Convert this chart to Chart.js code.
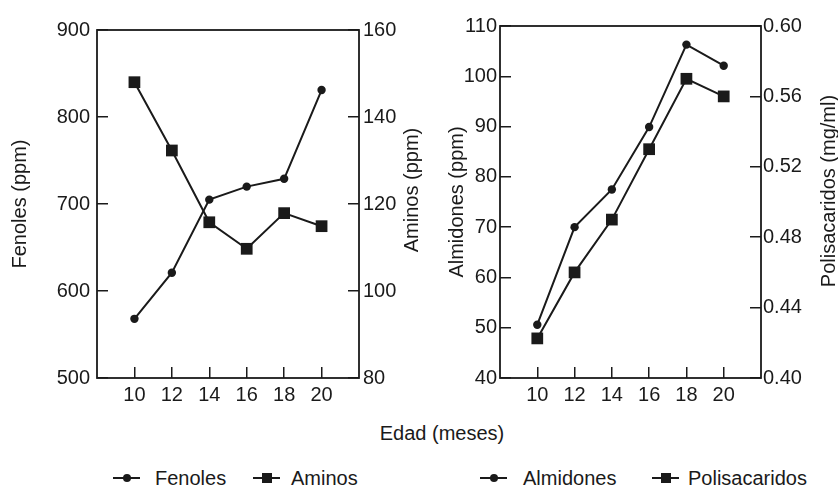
<!DOCTYPE html>
<html>
<head>
<meta charset="utf-8">
<script src="https://cdn.jsdelivr.net/npm/chart.js@4.4.0/dist/chart.umd.min.js"></script>
<style>
  body { margin: 0; background: #fff; width: 838px; height: 487px; overflow: hidden; position: relative;
         font-family: "Liberation Sans", Arial, sans-serif; color: #1a1a1a; }
  .box { position: absolute; top: 0; height: 410px; }
  #leftBox { left: 0; width: 420px; }
  #rightBox { left: 420px; width: 418px; }
  #xTitle { position: absolute; left: 342px; width: 200px; top: 421px; text-align: center; font-size: 20px; line-height: 24px; }
  .rTitle { position: absolute; width: 300px; height: 20px; line-height: 20px; font-size: 20px; text-align: center;
            white-space: nowrap; transform: translate(-50%, -50%) rotate(-90deg); }
  .legText { position: absolute; top: 466px; font-size: 20px; line-height: 24px; white-space: nowrap; }
  .legLine { position: absolute; top: 477px; width: 27px; height: 2px; background: #1a1a1a; }
  .legLine i { position: absolute; left: 50%; top: 50%; background: #1a1a1a; transform: translate(-50%, -50%); }
</style>
</head>
<body>
<div class="box" id="leftBox"><canvas id="leftChart"></canvas></div>
<div class="box" id="rightBox"><canvas id="rightChart"></canvas></div>
<div class="rTitle" style="left:411px; top:190px;">Aminos (ppm)</div>
<div class="rTitle" style="left:828px; top:191px;">Polisacaridos (mg/ml)</div>
<div id="xTitle">Edad (meses)</div>
<div id="legend"></div>
<script>
const edad = [10, 12, 14, 16, 18, 20];
const fenoles = [568, 621, 705, 720, 729, 831];
const aminos = [148, 132.3, 115.8, 109.7, 117.9, 114.9];
const almidones = [50.6, 70, 77.5, 89.9, 106.3, 102.1];
const polisacaridos = [0.4225, 0.46, 0.49, 0.53, 0.57, 0.56];

const fenolesTicks = [500, 600, 700, 800, 900];
const aminosTicks = [80, 100, 120, 140, 160];
const almidonesTicks = [40, 50, 60, 70, 80, 90, 100, 110];
const polisacaridosTicks = [0.40, 0.44, 0.48, 0.52, 0.56, 0.60];

const INK = '#1a1a1a';
const FONT = { family: '"Liberation Sans", Arial, sans-serif', size: 20 };

// draws the box round the plot area
const frame = {
    id: 'frame',
    afterDraw(chart) {
        const { ctx, chartArea: a } = chart;
        ctx.save();
        ctx.strokeStyle = INK;
        ctx.lineWidth = 1.8;
        ctx.strokeRect(a.left, a.top, a.right - a.left, a.bottom - a.top);
        ctx.restore();
    }
};

const tickGrid = { drawOnChartArea: false, drawTicks: true, tickLength: -11, color: INK, lineWidth: 1.5 };

function yScale(position, values, width, padding, text, titlePad, fmt) {
    return {
        type: 'linear',
        position: position,
        min: values[0],
        max: values[values.length - 1],
        afterBuildTicks: s => { s.ticks = values.map(v => ({ value: v })); },
        afterFit: s => { s.width = width; },
        grid: tickGrid,
        border: { display: false },
        ticks: { color: INK, font: FONT, padding: padding, callback: fmt || (v => v) },
        // right-hand titles read bottom-to-top in the original, so they are placed as html
        title: { display: !!text, text: text || '', color: INK, font: { ...FONT, lineHeight: 1 }, padding: { top: titlePad, bottom: 0 } }
    };
}

function xScale() {
    return {
        type: 'linear',
        position: 'bottom',
        min: 8,
        max: 22,
        afterBuildTicks: s => { s.ticks = edad.map(v => ({ value: v })); },
        afterFit: s => { s.height = 32; },
        grid: tickGrid,
        border: { display: false },
        ticks: { color: INK, font: FONT, padding: 16, maxRotation: 0 }
    };
}

function series(label, values, axis, style) {
    return {
        label: label,
        data: edad.map((x, i) => ({ x: x, y: values[i] })),
        yAxisID: axis,
        borderColor: INK,
        backgroundColor: INK,
        borderWidth: 2,
        pointStyle: style,
        pointRadius: style === 'rect' ? 8.3 : 4.2,
        pointBorderWidth: 0,
        tension: 0
    };
}

function baseOptions(scales) {
    return {
        responsive: true,
        maintainAspectRatio: false,
        animation: false,
        layout: { padding: { top: 23, left: 0, right: 0, bottom: 0 } },
        plugins: { legend: { display: false }, tooltip: { enabled: false } },
        scales: scales
    };
}

new Chart(document.getElementById('leftChart'), {
    type: 'line',
    data: {
        datasets: [
            series('Fenoles', fenoles, 'yL', 'circle'),
            series('Aminos', aminos, 'yR', 'rect')
        ]
    },
    options: baseOptions({
        x: xScale(),
        yL: yScale('left', fenolesTicks, 97, 18, 'Fenoles (ppm)', 10),
        yR: yScale('right', aminosTicks, 61, 15, null, 0)
    }),
    plugins: [frame]
});

new Chart(document.getElementById('rightChart'), {
    type: 'line',
    data: {
        datasets: [
            series('Almidones', almidones, 'yL', 'circle'),
            series('Polisacaridos', polisacaridos, 'yR', 'rect')
        ]
    },
    options: baseOptions({
        x: xScale(),
        yL: yScale('left', almidonesTicks, 80, 14, 'Almidones (ppm)', 27),
        yR: yScale('right', polisacaridosTicks, 77, 13, null, 0, v => v.toFixed(2))
    }),
    plugins: [frame]
});

// legend underneath, split in two groups like the original
const legendNames = ['Fenoles', 'Aminos', 'Almidones', 'Polisacaridos'];
const legendMarks = ['circle', 'rect', 'circle', 'rect'];
const legendX = [[113, 155], [253, 291], [480, 523], [652, 688]];
const legend = document.getElementById('legend');
legendNames.forEach((name, i) => {
    const line = document.createElement('div');
    line.className = 'legLine';
    line.style.left = legendX[i][0] + 'px';
    const mark = document.createElement('i');
    const size = legendMarks[i] === 'rect' ? 10 : 8;
    mark.style.width = size + 'px';
    mark.style.height = size + 'px';
    if (legendMarks[i] === 'circle') mark.style.borderRadius = '50%';
    line.appendChild(mark);
    legend.appendChild(line);

    const text = document.createElement('div');
    text.className = 'legText';
    text.style.left = legendX[i][1] + 'px';
    text.textContent = name;
    legend.appendChild(text);
});
</script>
</body>
</html>
